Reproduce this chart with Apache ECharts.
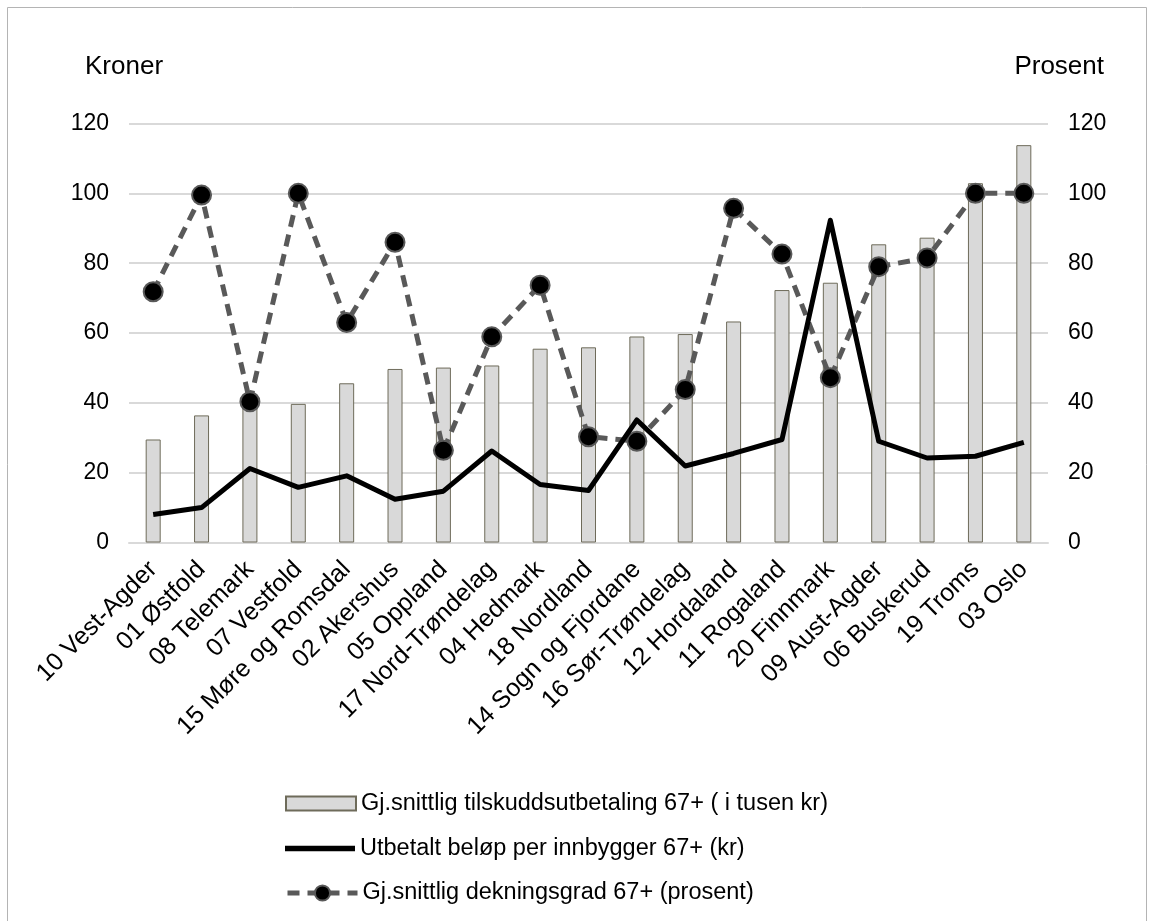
<!DOCTYPE html>
<html>
<head>
<meta charset="utf-8">
<title>Tilskudd 67+ per fylke</title>
<script src="https://cdn.jsdelivr.net/npm/echarts@6/dist/echarts.min.js"></script>
<style>
  html, body { margin: 0; padding: 0; background: #ffffff; }
  #chart { width: 1149px; height: 921px; }
</style>
</head>
<body>
<div id="chart"></div>
<script>
// Fylker, sortert etter gjennomsnittlig tilskuddsutbetaling
const categories = [
  '10 Vest-Agder', '01 Østfold', '08 Telemark', '07 Vestfold', '15 Møre og Romsdal',
  '02 Akershus', '05 Oppland', '17 Nord-Trøndelag', '04 Hedmark', '18 Nordland',
  '14 Sogn og Fjordane', '16 Sør-Trøndelag', '12 Hordaland', '11 Rogaland', '20 Finnmark',
  '09 Aust-Agder', '06 Buskerud', '19 Troms', '03 Oslo'
];

// Gj.snittlig tilskuddsutbetaling 67+ (i tusen kr)
const avgPayout = [29.5, 36.4, 40.5, 39.7, 45.6, 49.7, 50.1, 50.7, 55.5, 55.9,
                   59.0, 59.7, 63.3, 72.3, 74.4, 85.4, 87.3, 102.9, 113.8];

// Utbetalt beløp per innbygger 67+ (kr)
const perResident = [8.0, 10.0, 21.2, 15.8, 19.1, 12.4, 14.7, 26.2, 16.6, 14.9,
                     35.1, 21.9, 25.5, 29.5, 92.3, 29.0, 24.2, 24.7, 28.7];

// Gj.snittlig dekningsgrad 67+ (prosent)
const coverage = [71.8, 99.5, 40.3, 100, 63.0, 86.0, 26.4, 58.9, 73.7, 30.3,
                  29.0, 43.8, 95.7, 82.6, 47.2, 79.0, 81.5, 100, 100];

// Verdiakse (felles for kroner og prosent)
const axisTicks = { min: 0, max: 120, interval: 20 };

const seriesNames = [
  'Gj.snittlig tilskuddsutbetaling 67+ ( i tusen kr)',
  'Utbetalt beløp per innbygger 67+ (kr)',
  'Gj.snittlig dekningsgrad 67+ (prosent)'
];

const FONT = '"Liberation Sans", Arial, Helvetica, sans-serif';
const chart = echarts.init(document.getElementById('chart'), null, { renderer: 'canvas' });

const valueAxis = (position, showGrid) => ({
  type: 'value',
  position: position,
  min: axisTicks.min,
  max: axisTicks.max,
  interval: axisTicks.interval,
  axisLine: { show: false },
  axisTick: { show: false },
  axisLabel: { fontFamily: FONT, fontSize: 23, color: '#000', margin: 20 },
  splitLine: { show: showGrid, lineStyle: { color: '#d9d9d9', width: 2 } }
});

// One legend block per row so each key can have its own shape
const legendRow = (name, top, extra) => Object.assign({
  orient: 'vertical',
  left: 285,
  top: top,
  padding: 0,
  itemWidth: 70,
  itemHeight: 14,
  selectedMode: false,
  textStyle: { fontFamily: FONT, fontSize: 23.5, color: '#000' },
  data: [{ name: name }]
}, extra || {});

chart.setOption({
  animation: false,
  backgroundColor: '#ffffff',
  textStyle: { fontFamily: FONT },
  graphic: [
    {
      type: 'rect',
      silent: true,
      shape: { x: 7.5, y: 7.5, width: 1139, height: 960 },
      style: { fill: 'none', stroke: '#b4b4b4', lineWidth: 1 }
    },
    {
      type: 'text',
      left: 85, top: 54,
      style: { text: 'Kroner', font: '26px ' + FONT, fill: '#000' }
    },
    {
      type: 'text',
      right: 45, top: 54,
      style: { text: 'Prosent', font: '26px ' + FONT, fill: '#000' }
    }
  ],
  grid: { left: 129, right: 101, top: 123.5, bottom: 378.5, containLabel: false },
  legend: [
    legendRow(seriesNames[0], 791.5, { data: [{ name: seriesNames[0], icon: 'rect' }] }),
    legendRow(seriesNames[1], 836.5, {
      data: [{ name: seriesNames[1], icon: 'path://M0,0H70V5.5H0Z' }]
    }),
    legendRow(seriesNames[2], 881, {
      itemHeight: 19,
      lineStyle: { width: 5 }
    })
  ],
  xAxis: {
    type: 'category',
    data: categories,
    boundaryGap: true,
    axisLine: { show: true, lineStyle: { color: '#d9d9d9', width: 2 } },
    axisTick: { show: false },
    axisLabel: {
      interval: 0,
      rotate: 45,
      margin: 23,
      fontFamily: FONT,
      fontSize: 25,
      color: '#000'
    }
  },
  yAxis: [valueAxis('left', true), valueAxis('right', false)],
  series: [
    {
      name: seriesNames[0],
      type: 'bar',
      yAxisIndex: 0,
      data: avgPayout,
      barWidth: 15,
      itemStyle: { color: '#d9d9d9', borderColor: '#6e6b5a', borderWidth: 1 },
      z: 1
    },
    {
      name: seriesNames[2],
      type: 'line',
      yAxisIndex: 1,
      data: coverage,
      symbol: 'circle',
      symbolSize: 19,
      showSymbol: true,
      lineStyle: { color: '#595959', width: 5, type: [12, 8], cap: 'butt' },
      itemStyle: { color: '#000000', borderColor: '#595959', borderWidth: 2 },
      z: 3
    },
    {
      name: seriesNames[1],
      type: 'line',
      yAxisIndex: 0,
      data: perResident,
      symbol: 'none',
      showSymbol: false,
      lineStyle: { color: '#000000', width: 5, join: 'round' },
      itemStyle: { color: '#000000' },
      z: 4
    }
  ]
});
</script>
</body>
</html>
